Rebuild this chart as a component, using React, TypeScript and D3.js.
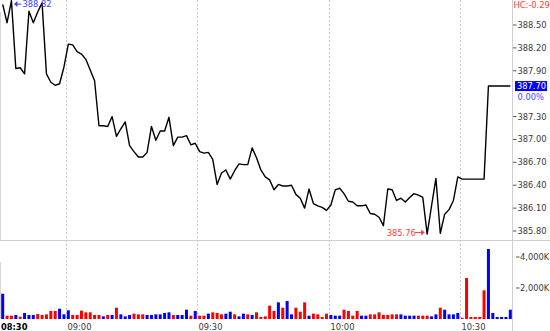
import React from "react";
import * as d3 from "d3";

// ---- data ----
const sessionLabel = "08:30";
const timeTickLabels = ["09:00", "09:30", "10:00", "10:30"];
const startTime = "08:45";
const endTime = "10:42";

const prices = [
  388.77, 388.53, 388.82, 387.93, 387.94, 387.86, 388.68, 388.53, 388.67, 388.79,
  387.86, 387.75, 387.71, 387.73, 387.95, 388.25, 388.24, 388.15, 388.12, 388.05,
  387.91, 387.77, 387.18, 387.18, 387.17, 387.30, 387.04, 387.14, 387.23, 386.92,
  386.84, 386.77, 386.77, 386.83, 387.17, 386.99, 387.11, 387.11, 387.29, 386.92,
  387.03, 387.03, 387.05, 386.93, 386.95, 386.84, 386.82, 386.83, 386.74, 386.41,
  386.56, 386.60, 386.48, 386.59, 386.68, 386.67, 386.67, 386.89, 386.76, 386.60,
  386.51, 386.47, 386.34, 386.41, 386.39, 386.39, 386.40, 386.28, 386.23, 386.10,
  386.35, 386.16, 386.13, 386.11, 386.07, 386.14, 386.34, 386.36, 386.29, 386.19,
  386.18, 386.13, 386.13, 386.14, 386.03, 386.02, 385.98, 385.87, 386.35, 386.34,
  386.20, 386.23, 386.18, 386.24, 386.29, 386.27, 386.24, 385.76, 386.13, 386.49,
  385.77, 386.02, 386.08, 386.20, 386.51, 386.48, 386.48, 386.48, 386.48, 386.48,
  386.48, 387.70, 387.70, 387.70, 387.70, 387.70, 387.70,
];

// volume in thousands
const volumes = [
  1630, 215, 215, 260, 150, 390, 260, 260, 320, 260,
  300, 520, 520, 665, 300, 560, 260, 260, 540, 430,
  430, 260, 260, 170, 260, 260, 730, 300, 170, 260,
  345, 300, 300, 260, 260, 300, 300, 390, 430, 260,
  260, 260, 600, 215, 520, 215,
  215, 345, 430, 390, 300, 345, 470, 300, 170, 345,
  300, 260, 430, 130, 170, 860, 520, 1075, 730, 1160,
  300, 730, 470, 1075, 215, 345, 300, 130, 345, 260,
  215, 215, 600, 520, 215, 520, 215, 215, 300, 300,
  430, 260, 260, 300, 300, 300, 215, 215, 215, 215,
  215, 215, 170, 300, 730, 600, 300, 300, 390, 80,
  2645, 130, 130, 130, 1850, 4515, 390, 130, 130, 130, 600,
];

// u = up (blue), d = down (red)
const directions = [
  "uddudu", "uudd",
  "dddu", "uudddd",
  "dddududuuu",
  "ddduuuuuud",
  "uuudud",
  "duddduuduu",
  "dudddddudu",
  "udddudddd", "u",
  "uudddduudd",
  "ddddduuuud",
  "dduuduuuud",
  "dddddu", "uuuuu",
].join("");

const priceTicks = [388.5, 388.2, 387.9, 387.3, 387.0, 386.7, 386.4, 386.1, 385.8];
const volumeTicks = [4000, 2000];
const priceDomain = [385.682, 388.828];
const volumeDomain = [0, 5000];
const lastPrice = 387.7;
const changePct = "0.00%";
const hcLabel = "HC:-0.29";

const FONT = "'DejaVu Sans', Verdana, sans-serif";
const W = 550;
const H = 331;
const PLOT_R = 512.5;

function toDate(hhmm: string) {
  const [h, m] = hhmm.split(":").map(Number);
  return new Date(2024, 0, 2, h, m);
}

export default function App() {
  const t0 = toDate(startTime);
  const x = d3.scaleTime().domain([t0, toDate(endTime)]).range([0.5, PLOT_R]);
  const y = d3.scaleLinear().domain(priceDomain).range([240, 0]);
  const yv = d3.scaleLinear().domain(volumeDomain).range([319, 241.5]);

  const times = prices.map((_, i) => d3.timeMinute.offset(t0, i));
  const cx = (i: number) => x(d3.timeSecond.offset(times[i], 30));

  const line = d3
    .line<number>()
    .x((_, i) => cx(i))
    .y((d) => y(d));

  const maxIdx = d3.maxIndex(prices);
  const minIdx = d3.minIndex(prices);
  const maxX = cx(maxIdx);
  const maxY = y(prices[maxIdx]);
  const minX = cx(minIdx);
  const minY = y(prices[minIdx]);

  const blue = "#0000ff";
  const red = "#ff0000";
  const grid = "#c8c8c8";
  const axisText = "#3a3a3a";

  return (
    <svg
      width={W}
      height={H}
      style={{ position: "absolute", left: 0, top: 0, display: "block", background: "#fff" }}
      fontFamily={FONT}
    >
      {/* frame lines */}
      <line x1={0} x2={W} y1={240.5} y2={240.5} stroke="#cfcfcf" />
      <line x1={PLOT_R} x2={PLOT_R} y1={0} y2={H} stroke="#cfcfcf" />
      <line x1={0.5} x2={0.5} y1={12} y2={240} stroke="#d4d4d4" />
      <line x1={0.5} x2={0.5} y1={262} y2={319} stroke="#d4d4d4" />

      {/* vertical dotted grid */}
      {timeTickLabels.map((lab) => {
        const gx = Math.round(x(toDate(lab))) + 0.5;
        return (
          <line key={lab} x1={gx} x2={gx} y1={0} y2={320} stroke={grid} strokeDasharray="2,2" />
        );
      })}

      {/* volume bars */}
      {volumes.map((v, i) => (
        <rect
          key={i}
          x={cx(i) - 1.5}
          y={yv(v)}
          width={3}
          height={yv(0) - yv(v)}
          fill={directions[i] === "u" ? blue : red}
        />
      ))}

      {/* price line */}
      <path d={line(prices) || ""} fill="none" stroke="#000" strokeWidth={1.4} strokeLinejoin="round" />

      {/* max label */}
      <g fill="#3c3cff" stroke="#3c3cff">
        <line x1={maxX + 4} x2={maxX + 10} y1={maxY + 3.5} y2={maxY + 3.5} strokeWidth={1} />
        <path d={`M${maxX + 2.5},${maxY + 3.5} L${maxX + 6},${maxY + 0.5} L${maxX + 6},${maxY + 6.5} Z`} stroke="none" />
        <text x={maxX + 11} y={maxY + 6.8} fontSize={8.3} stroke="none">
          {prices[maxIdx].toFixed(2)}
        </text>
      </g>

      {/* min label */}
      <g fill="#ff3c3c" stroke="#ff3c3c">
        <text x={minX - 40.5} y={minY + 1.8} fontSize={8.3} stroke="none">
          {prices[minIdx].toFixed(2)}
        </text>
        <line x1={minX - 12} x2={minX - 5} y1={minY - 1.5} y2={minY - 1.5} strokeWidth={1} />
        <path d={`M${minX - 2.5},${minY - 1.5} L${minX - 6},${minY - 4.5} L${minX - 6},${minY + 1.5} Z`} stroke="none" />
      </g>

      {/* price axis */}
      {priceTicks.map((t) => (
        <g key={t}>
          <line x1={513} x2={516.5} y1={y(t)} y2={y(t)} stroke="#555" />
          <text x={517.5} y={y(t)} dy="0.36em" fontSize={8.3} fill={axisText}>
            {t.toFixed(2)}
          </text>
        </g>
      ))}

      {/* current price */}
      <rect x={515} y={y(lastPrice) - 5} width={32} height={10} fill={blue} />
      <text x={517} y={y(lastPrice)} dy="0.36em" fontSize={8.3} fill="#fff">
        {lastPrice.toFixed(2)}
      </text>
      <text x={517.5} y={y(lastPrice) + 13.5} fontSize={8.3} fill="#4848ff">
        {changePct}
      </text>

      <text x={513.5} y={7.5} fontSize={8.3} fill="#ff3b3b">
        {hcLabel}
      </text>

      {/* volume axis */}
      {volumeTicks.map((t) => (
        <g key={t}>
          <line x1={516} x2={519.5} y1={yv(t)} y2={yv(t)} stroke="#555" />
          <text x={520} y={yv(t)} dy="0.36em" fontSize={8.3} fill={axisText}>
            {d3.format(",")(t) + "K"}
          </text>
        </g>
      ))}

      {/* time axis */}
      <text x={1} y={329.5} fontSize={8.3} fontWeight="bold" fill="#000">
        {sessionLabel}
      </text>
      {timeTickLabels.map((lab) => (
        <text key={lab} x={Math.round(x(toDate(lab))) + 1.5} y={329.5} fontSize={8.3} fill={axisText}>
          {lab}
        </text>
      ))}
    </svg>
  );
}
